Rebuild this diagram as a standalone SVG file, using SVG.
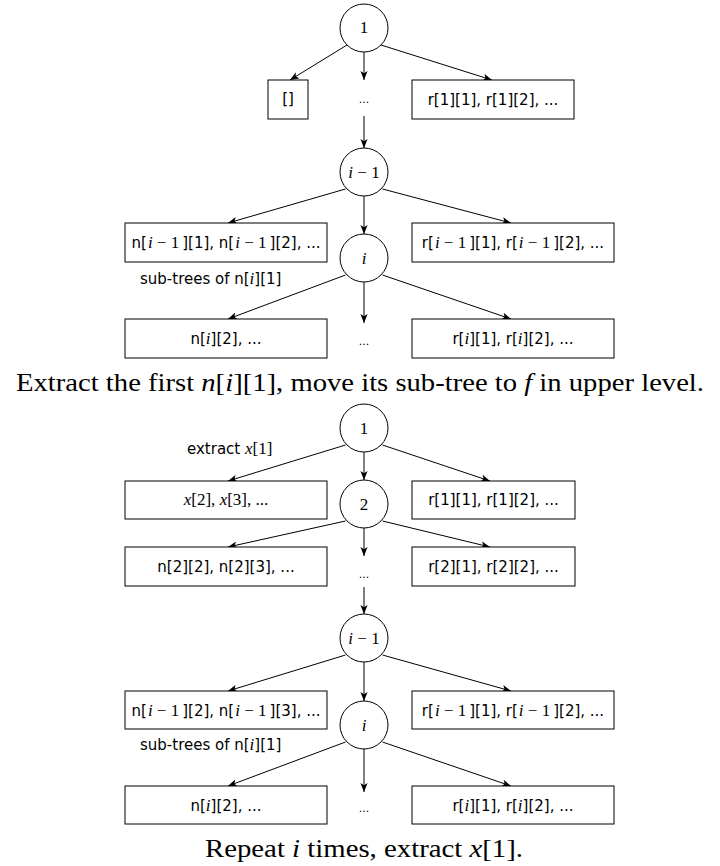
<svg xmlns="http://www.w3.org/2000/svg" width="720" height="866" viewBox="0 0 720 866">
<defs>
<marker id="ah" viewBox="0 0 10 8" refX="10" refY="4" markerWidth="9" markerHeight="7.2" orient="auto" markerUnits="userSpaceOnUse">
<path d="M0,0 L10,4 L0,8 L2.5,4 z" fill="#000"/>
</marker>
<style>
.nd circle{fill:#fff;stroke:#000;stroke-width:1}
.nd rect{fill:#fff;stroke:#000;stroke-width:1}
.lb{font-family:"DejaVu Sans",Verdana,sans-serif;font-size:15px;fill:#000;text-anchor:middle}
.ll{font-family:"DejaVu Sans",Verdana,sans-serif;font-size:15px;fill:#000}
.cl{font-family:"Liberation Serif",serif;font-size:17px;fill:#000;text-anchor:middle}
.m{font-family:"Liberation Serif",serif;font-style:italic;font-size:17px}
.mr{font-family:"Liberation Serif",serif;font-style:normal;font-size:17px}
.mx{font-family:"Liberation Serif",serif;font-size:17px;fill:#000;text-anchor:middle}
.dots{font-family:"DejaVu Sans",sans-serif;font-size:11px;fill:#000;text-anchor:middle}
.cap{font-family:"Liberation Serif",serif;font-size:26px;fill:#000;text-anchor:middle}
.ci{font-style:italic}
.edges line{stroke:#000;stroke-width:1;fill:none;marker-end:url(#ah)}
</style>
</defs>
<rect width="720" height="866" fill="#fff"/>

<g class="edges" id="connectors">
<line x1="347" y1="45" x2="290" y2="80"/>
<line x1="364" y1="52" x2="364" y2="80"/>
<line x1="381" y1="45" x2="492" y2="80"/>
<line x1="364" y1="116" x2="364" y2="148"/>
<line x1="345.5" y1="189" x2="228" y2="223"/>
<line x1="364" y1="196" x2="364" y2="234"/>
<line x1="382.5" y1="189" x2="511" y2="223"/>
<line x1="345.5" y1="275" x2="228" y2="319"/>
<line x1="364" y1="282" x2="364" y2="323"/>
<line x1="382.5" y1="275" x2="511" y2="319"/>

<line x1="345.5" y1="445" x2="228" y2="481"/>
<line x1="364" y1="452" x2="364" y2="480"/>
<line x1="382.5" y1="445" x2="490" y2="481"/>
<line x1="345.5" y1="521" x2="228" y2="547"/>
<line x1="364" y1="528" x2="364" y2="556"/>
<line x1="382.5" y1="521" x2="490" y2="547"/>
<line x1="364" y1="587" x2="364" y2="614"/>
<line x1="345.5" y1="655" x2="228" y2="691"/>
<line x1="364" y1="662" x2="364" y2="701"/>
<line x1="382.5" y1="655" x2="511" y2="691"/>
<line x1="345.5" y1="742" x2="228" y2="786"/>
<line x1="364" y1="748" x2="364" y2="792"/>
<line x1="382.5" y1="742" x2="511" y2="786"/>
</g>

<!-- Part 1 -->
<g id="n1" class="nd"><circle cx="364" cy="28" r="24"/><text class="cl" x="364" y="33">1</text></g>
<g id="empty" class="nd"><rect x="268" y="80" width="40" height="39"/><text class="lb" x="288" y="104">[]</text></g>
<g id="dots1" class="nd"><text class="dots" x="364" y="103">...</text></g>
<g id="r1" class="nd"><rect x="412" y="80" width="162" height="39"/><text class="lb" x="493" y="105">r[1][1], r[1][2], ...</text></g>
<g id="nim1" class="nd"><circle cx="364" cy="172" r="24"/><text class="cl" x="364" y="178"><tspan class="ci">i</tspan> − 1</text></g>
<g id="bnim1" class="nd"><rect x="125" y="223" width="202" height="39"/><text class="lb" x="226" y="248">n[<tspan class="m" dx="1">i</tspan><tspan class="mr"> − 1</tspan><tspan dx="3">][1], n[</tspan><tspan class="m" dx="1">i</tspan><tspan class="mr"> − 1</tspan><tspan dx="3">][2], ...</tspan></text></g>
<g id="brim1" class="nd"><rect x="412" y="223" width="202" height="39"/><text class="lb" x="513" y="248">r[<tspan class="m" dx="1">i</tspan><tspan class="mr"> − 1</tspan><tspan dx="3">][1], r[</tspan><tspan class="m" dx="1">i</tspan><tspan class="mr"> − 1</tspan><tspan dx="3">][2], ...</tspan></text></g>
<g id="ni" class="nd"><circle cx="364" cy="258" r="24"/><text class="cl" x="364" y="264"><tspan class="ci">i</tspan></text></g>
<g id="sub1" class="nd"><text class="ll" x="140" y="284">sub-trees of n[<tspan class="m">i</tspan>][1]</text></g>
<g id="bni" class="nd"><rect x="125" y="319" width="202" height="39"/><text class="lb" x="226" y="344">n[<tspan class="m">i</tspan>][2], ...</text></g>
<g id="dots2" class="nd"><text class="dots" x="364" y="345">...</text></g>
<g id="bri" class="nd"><rect x="412" y="319" width="202" height="39"/><text class="lb" x="513" y="344">r[<tspan class="m">i</tspan>][1], r[<tspan class="m">i</tspan>][2], ...</text></g>

<text id="cap1" class="cap" x="360" y="391" textLength="688" lengthAdjust="spacingAndGlyphs">Extract the first <tspan class="ci">n</tspan>[<tspan class="ci">i</tspan>][1], move its sub-tree to <tspan class="ci">f</tspan> in upper level.</text>

<!-- Part 2 -->
<g id="m1" class="nd"><circle cx="364" cy="428" r="24"/><text class="cl" x="364" y="434">1</text></g>
<g id="ext" class="nd"><text class="ll" x="187" y="454">extract <tspan class="m">x</tspan><tspan class="mr">[1]</tspan></text></g>
<g id="bx" class="nd"><rect x="125" y="481" width="202" height="38"/><text class="mx" x="226" y="505"><tspan class="ci">x</tspan>[2], <tspan class="ci">x</tspan>[3], ...</text></g>
<g id="br1" class="nd"><rect x="412" y="481" width="163" height="38"/><text class="lb" x="493.5" y="505">r[1][1], r[1][2], ...</text></g>
<g id="m2" class="nd"><circle cx="364" cy="504" r="24"/><text class="cl" x="364" y="510">2</text></g>
<g id="bn2" class="nd"><rect x="125" y="547" width="202" height="39"/><text class="lb" x="226" y="572">n[2][2], n[2][3], ...</text></g>
<g id="dots3" class="nd"><text class="dots" x="364" y="578">...</text></g>
<g id="br2" class="nd"><rect x="412" y="547" width="163" height="39"/><text class="lb" x="493.5" y="572">r[2][1], r[2][2], ...</text></g>
<g id="mim1" class="nd"><circle cx="364" cy="638" r="24"/><text class="cl" x="364" y="644"><tspan class="ci">i</tspan> − 1</text></g>
<g id="bmnim1" class="nd"><rect x="125" y="691" width="202" height="38"/><text class="lb" x="226" y="716">n[<tspan class="m" dx="1">i</tspan><tspan class="mr"> − 1</tspan><tspan dx="3">][2], n[</tspan><tspan class="m" dx="1">i</tspan><tspan class="mr"> − 1</tspan><tspan dx="3">][3], ...</tspan></text></g>
<g id="bmrim1" class="nd"><rect x="412" y="691" width="202" height="38"/><text class="lb" x="513" y="716">r[<tspan class="m" dx="1">i</tspan><tspan class="mr"> − 1</tspan><tspan dx="3">][1], r[</tspan><tspan class="m" dx="1">i</tspan><tspan class="mr"> − 1</tspan><tspan dx="3">][2], ...</tspan></text></g>
<g id="mi" class="nd"><circle cx="364" cy="725" r="24"/><text class="cl" x="364" y="731"><tspan class="ci">i</tspan></text></g>
<g id="sub2" class="nd"><text class="ll" x="140" y="750">sub-trees of n[<tspan class="m">i</tspan>][1]</text></g>
<g id="bmni" class="nd"><rect x="125" y="786" width="202" height="38"/><text class="lb" x="226" y="811">n[<tspan class="m">i</tspan>][2], ...</text></g>
<g id="dots4" class="nd"><text class="dots" x="364" y="812">...</text></g>
<g id="bmri" class="nd"><rect x="412" y="786" width="202" height="38"/><text class="lb" x="513" y="811">r[<tspan class="m">i</tspan>][1], r[<tspan class="m">i</tspan>][2], ...</text></g>

<text id="cap2" class="cap" x="364" y="857" textLength="318" lengthAdjust="spacingAndGlyphs">Repeat <tspan class="ci">i</tspan> times, extract <tspan class="ci">x</tspan>[1].</text>
</svg>
